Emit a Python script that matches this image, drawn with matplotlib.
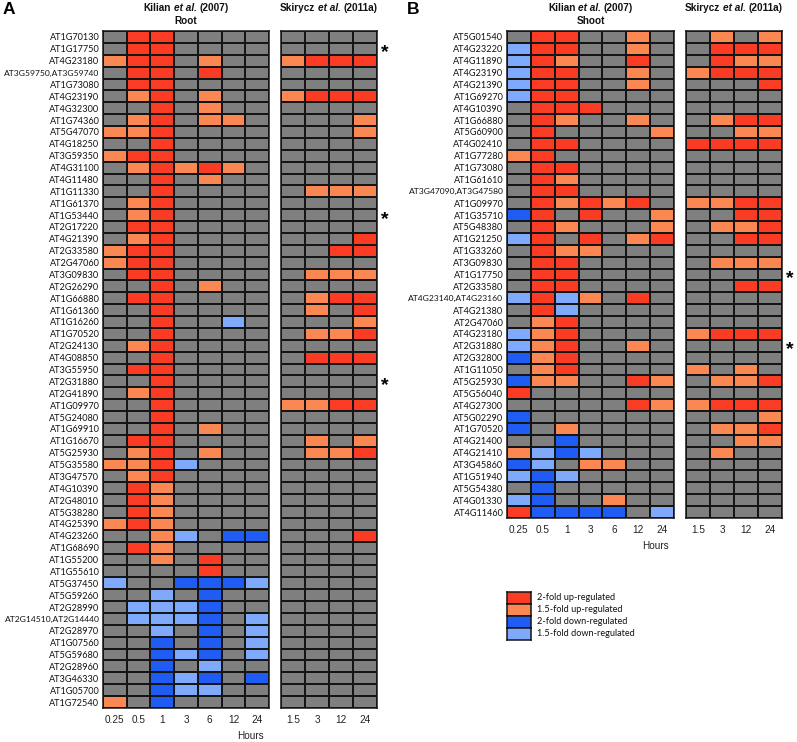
import matplotlib
matplotlib.use('Agg')
import matplotlib.pyplot as plt
import numpy as np
from matplotlib.colors import ListedColormap, BoundaryNorm

# ---------------- data ----------------
kilian_hours = ['0.25', '0.5', '1', '3', '6', '12', '24']
skirycz_hours = ['1.5', '3', '12', '24']

root_genes = ['AT1G70130', 'AT1G17750', 'AT4G23180', 'AT3G59750,AT3G59740', 'AT1G73080',
              'AT4G23190', 'AT4G32300', 'AT1G74360', 'AT5G47070', 'AT4G18250', 'AT3G59350',
              'AT4G31100', 'AT4G11480', 'AT1G11330', 'AT1G61370', 'AT1G53440', 'AT2G17220',
              'AT4G21390', 'AT2G33580', 'AT2G47060', 'AT3G09830', 'AT2G26290', 'AT1G66880',
              'AT1G61360', 'AT1G16260', 'AT1G70520', 'AT2G24130', 'AT4G08850', 'AT3G55950',
              'AT2G31880', 'AT2G41890', 'AT1G09970', 'AT5G24080', 'AT1G69910', 'AT1G16670',
              'AT5G25930', 'AT5G35580', 'AT3G47570', 'AT4G10390', 'AT2G48010', 'AT5G38280',
              'AT4G25390', 'AT4G23260', 'AT1G68690', 'AT1G55200', 'AT1G55610', 'AT5G37450',
              'AT5G59260', 'AT2G28990', 'AT2G14510,AT2G14440', 'AT2G28970', 'AT1G07560',
              'AT5G59680', 'AT2G28960', 'AT3G46330', 'AT1G05700', 'AT1G72540']

# codes: 2 = 2-fold up, 1 = 1.5-fold up, 0 = n.s., -1 = 1.5-fold down, -2 = 2-fold down
root_kilian = [
    [0, 2, 2, 0, 0, 0, 0], [0, 2, 2, 0, 0, 0, 0], [1, 2, 2, 0, 1, 0, 0], [0, 2, 2, 0, 2, 0, 0],
    [0, 2, 2, 0, 0, 0, 0], [0, 1, 2, 0, 1, 0, 0], [0, 0, 2, 0, 1, 0, 0], [0, 1, 2, 0, 1, 1, 0],
    [1, 1, 2, 0, 0, 0, 0], [0, 0, 2, 0, 0, 0, 0], [1, 2, 2, 0, 0, 0, 0], [0, 1, 2, 1, 2, 1, 0],
    [0, 0, 2, 0, 1, 0, 0], [0, 0, 2, 0, 0, 0, 0], [0, 1, 2, 0, 0, 0, 0], [0, 1, 2, 0, 0, 0, 0],
    [0, 2, 2, 0, 0, 0, 0], [0, 1, 2, 0, 0, 0, 0], [1, 2, 2, 0, 0, 0, 0], [1, 2, 2, 0, 0, 0, 0],
    [0, 2, 2, 0, 0, 0, 0], [0, 0, 2, 0, 1, 0, 0], [0, 2, 2, 0, 0, 0, 0], [0, 0, 2, 0, 0, 0, 0],
    [0, 0, 2, 0, 0, -1, 0], [0, 0, 2, 0, 0, 0, 0], [0, 1, 2, 0, 0, 0, 0], [0, 0, 2, 0, 0, 0, 0],
    [0, 2, 2, 0, 0, 0, 0], [0, 0, 2, 0, 0, 0, 0], [0, 1, 2, 0, 0, 0, 0], [0, 0, 2, 0, 0, 0, 0],
    [0, 0, 2, 0, 0, 0, 0], [0, 0, 2, 0, 1, 0, 0], [0, 2, 2, 0, 0, 0, 0], [0, 1, 2, 0, 1, 0, 0],
    [1, 1, 2, -1, 0, 0, 0], [0, 1, 2, 0, 0, 0, 0], [0, 2, 1, 0, 0, 0, 0], [0, 2, 1, 0, 0, 0, 0],
    [0, 2, 1, 0, 0, 0, 0], [1, 2, 1, 0, 0, 0, 0], [0, 0, 1, -1, 0, -2, -2], [0, 2, 1, 0, 0, 0, 0],
    [0, 0, 1, 0, 2, 0, 0], [0, 0, 0, 0, 2, 0, 0], [-1, 0, 0, -2, -2, -2, -1], [0, 0, -1, 0, -2, 0, 0],
    [0, -1, -1, -1, -2, 0, 0], [0, -1, -1, -1, -2, 0, -1], [0, 0, -1, 0, -2, 0, -1],
    [0, 0, -2, 0, -2, 0, -1], [0, 0, -2, -1, -2, 0, -1], [0, 0, -2, 0, -1, 0, 0],
    [0, 0, -2, -1, -2, 0, -2], [0, 0, -2, -1, -1, 0, 0], [1, 0, -2, 0, 0, 0, 0]]

root_skirycz = [
    [0, 0, 0, 0], [0, 0, 0, 0], [1, 2, 2, 2], [0, 0, 0, 0], [0, 0, 0, 0], [1, 2, 2, 2],
    [0, 0, 0, 0], [0, 0, 0, 1], [0, 0, 0, 1], [0, 0, 0, 0], [0, 0, 0, 0], [0, 0, 0, 0],
    [0, 0, 0, 0], [0, 1, 1, 1], [0, 0, 0, 0], [0, 0, 0, 0], [0, 0, 0, 0], [0, 0, 0, 2],
    [0, 0, 2, 2], [0, 0, 0, 0], [0, 1, 1, 1], [0, 0, 0, 0], [0, 1, 2, 2], [0, 1, 0, 2],
    [0, 0, 0, 1], [0, 1, 1, 2], [0, 0, 0, 0], [0, 2, 2, 2], [0, 0, 0, 0], [0, 0, 0, 0],
    [0, 0, 0, 0], [1, 1, 2, 2], [0, 0, 0, 0], [0, 0, 0, 0], [0, 1, 0, 1], [0, 1, 1, 2],
    [0, 0, 0, 0], [0, 0, 0, 0], [0, 0, 0, 0], [0, 0, 0, 0], [0, 0, 0, 0], [0, 0, 0, 0],
    [0, 0, 0, 2], [0, 0, 0, 0], [0, 0, 0, 0], [0, 0, 0, 0], [0, 0, 0, 0], [0, 0, 0, 0],
    [0, 0, 0, 0], [0, 0, 0, 0], [0, 0, 0, 0], [0, 0, 0, 0], [0, 0, 0, 0], [0, 0, 0, 0],
    [0, 0, 0, 0], [0, 0, 0, 0], [0, 0, 0, 0]]
root_starred = ['AT1G17750', 'AT1G53440', 'AT2G31880']

shoot_genes = ['AT5G01540', 'AT4G23220', 'AT4G11890', 'AT4G23190', 'AT4G21390', 'AT1G69270',
               'AT4G10390', 'AT1G66880', 'AT5G60900', 'AT4G02410', 'AT1G77280', 'AT1G73080',
               'AT1G61610', 'AT3G47090,AT3G47580', 'AT1G09970', 'AT1G35710', 'AT5G48380',
               'AT1G21250', 'AT1G33260', 'AT3G09830', 'AT1G17750', 'AT2G33580',
               'AT4G23140,AT4G23160', 'AT4G21380', 'AT2G47060', 'AT4G23180', 'AT2G31880',
               'AT2G32800', 'AT1G11050', 'AT5G25930', 'AT5G56040', 'AT4G27300', 'AT5G02290',
               'AT1G70520', 'AT4G21400', 'AT4G21410', 'AT3G45860', 'AT1G51940', 'AT5G54380',
               'AT4G01330', 'AT4G11460']

shoot_kilian = [
    [0, 2, 2, 0, 0, 1, 0], [-1, 2, 2, 0, 0, 1, 0], [-1, 2, 1, 0, 0, 2, 0], [-1, 2, 2, 0, 0, 1, 0],
    [-1, 2, 2, 0, 0, 1, 0], [-1, 2, 2, 0, 0, 0, 0], [0, 2, 2, 2, 0, 0, 0], [0, 2, 1, 0, 0, 1, 0],
    [0, 2, 0, 0, 0, 0, 1], [0, 2, 2, 0, 0, 0, 0], [1, 2, 0, 0, 0, 0, 0], [0, 2, 2, 0, 0, 0, 0],
    [0, 2, 1, 0, 0, 0, 0], [0, 2, 2, 0, 0, 0, 0], [0, 2, 1, 2, 1, 2, 0], [-2, 2, 0, 2, 0, 0, 1],
    [0, 2, 1, 0, 0, 0, 1], [-1, 2, 0, 2, 0, 1, 2], [0, 2, 1, 1, 0, 0, 0], [0, 2, 2, 0, 0, 0, 0],
    [0, 2, 2, 0, 0, 0, 0], [0, 2, 2, 0, 0, 0, 0], [-1, 2, -1, 1, 0, 2, 0], [0, 2, -1, 0, 0, 0, 0],
    [0, 1, 2, 0, 0, 0, 0], [-1, 1, 2, 0, 0, 0, 0], [-1, 1, 2, 0, 0, 1, 0], [-2, 1, 2, 0, 0, 0, 0],
    [0, 1, 2, 0, 0, 0, 0], [-2, 1, 1, 0, 0, 2, 1], [2, 0, 0, 0, 0, 0, 0], [0, 0, 0, 0, 0, 2, 1],
    [-2, 0, 0, 0, 0, 0, 0], [-2, 0, 1, 0, 0, 0, 0], [0, 0, -2, 0, 0, 0, 0], [1, -1, -2, -1, 0, 0, 0],
    [-2, -1, 0, 1, 1, 0, 0], [-1, -2, -1, 0, 0, 0, 0], [0, -2, 0, 0, 0, 0, 0], [-1, -2, 0, 0, 1, 0, 0],
    [2, -2, -2, -2, -2, 0, -1]]

shoot_skirycz = [
    [0, 1, 0, 1], [0, 2, 2, 2], [0, 2, 1, 1], [1, 2, 2, 2], [0, 0, 0, 2], [0, 0, 0, 0],
    [0, 0, 0, 0], [0, 1, 2, 2], [0, 0, 1, 1], [2, 2, 2, 2], [0, 0, 0, 0], [0, 0, 0, 0],
    [0, 0, 0, 0], [0, 0, 0, 0], [1, 1, 2, 2], [0, 0, 2, 2], [0, 1, 1, 2], [0, 0, 2, 2],
    [0, 0, 0, 0], [0, 1, 1, 1], [0, 0, 0, 0], [0, 0, 2, 2], [0, 0, 0, 0], [0, 0, 0, 0],
    [0, 0, 0, 0], [1, 2, 2, 2], [0, 0, 0, 0], [0, 0, 0, 0], [1, 0, 1, 0], [0, 1, 1, 2],
    [0, 0, 0, 0], [1, 2, 2, 2], [0, 0, 0, 1], [0, 1, 1, 2], [0, 0, 1, 1], [0, 1, 0, 0],
    [0, 0, 0, 0], [0, 0, 0, 0], [0, 0, 0, 0], [0, 0, 0, 0], [0, 0, 0, 0]]
shoot_starred = ['AT1G17750', 'AT2G31880']

legend_labels = ['2-fold up-regulated', '1.5-fold up-regulated',
                 '2-fold down-regulated', '1.5-fold down-regulated']
legend_codes = [2, 1, -2, -1]

# ---------------- style ----------------
W, H = 797, 742
fig = plt.figure(figsize=(W / 100, H / 100), dpi=100)

code_colors = {-2: '#1F5CF4', -1: '#7FA9FA', 0: '#7F7F7F', 1: '#FB8752', 2: '#FA3C24'}
cmap = ListedColormap([code_colors[k] for k in (-2, -1, 0, 1, 2)])
norm = BoundaryNorm([-2.5, -1.5, -0.5, 0.5, 1.5, 2.5], 5)
EDGE = '#151515'
LABEL_FONT = ['Lato', 'DejaVu Sans']
HEAD_FONT = ['Liberation Sans', 'DejaVu Sans']
LABEL_SIZE = 6.6


def ax_px(x0, y0, x1, y1):
    return fig.add_axes([x0 / W, 1 - y1 / H, (x1 - x0) / W, (y1 - y0) / H])


def heat(ax, data, xlabels, ylabels=None):
    d = np.array(data)
    ax.pcolormesh(d, cmap=cmap, norm=norm, edgecolors=EDGE, linewidth=1.1)
    ax.set_xlim(0, d.shape[1])
    ax.set_ylim(d.shape[0], 0)
    ax.set_xticks(np.arange(d.shape[1]) + 0.5)
    ax.set_xticklabels(xlabels, fontsize=7.2, family=HEAD_FONT, color='#222222')
    ax.tick_params(axis='x', length=0, pad=5)
    if ylabels is not None:
        ax.set_yticks(np.arange(d.shape[0]) + 0.5)
        ax.set_yticklabels(ylabels, fontsize=LABEL_SIZE, family=LABEL_FONT, color='#111111')
        ax.tick_params(axis='y', length=0, pad=2.6)
        for t in ax.get_yticklabels():
            if ',' in t.get_text():
                t.set_fontsize(6.1)
    else:
        ax.set_yticks([])
    for s in ax.spines.values():
        s.set_linewidth(1.1)
        s.set_color(EDGE)


renderer = fig.canvas.get_renderer()


def rich_text(xc, yc, parts, size):
    texts = []
    for s, st in parts:
        t = fig.text(0, 1 - yc / H, s, fontsize=size, fontweight='bold', fontstyle=st,
                     family=HEAD_FONT, va='center', ha='left', color='#111111')
        texts.append(t)
    a = fig.text(0, 0, 'xx', fontsize=size, fontweight='bold', family=HEAD_FONT)
    b = fig.text(0, 0, 'x x', fontsize=size, fontweight='bold', family=HEAD_FONT)
    sp = b.get_window_extent(renderer).width - a.get_window_extent(renderer).width
    a.remove(); b.remove()
    widths = [t.get_window_extent(renderer).width for t in texts]
    total = sum(widths) + sp * (len(texts) - 1)
    x = xc - total / 2
    for t, w in zip(texts, widths):
        t.set_x(x / W)
        x += w + sp


def panel(x_k0, x_k1, x_s0, x_s1, y0, y1, genes, kil, sky, starred, tissue, letter, letter_x):
    axk = ax_px(x_k0, y0, x_k1, y1)
    heat(axk, kil, kilian_hours, genes)
    axs = ax_px(x_s0, y0, x_s1, y1)
    heat(axs, sky, skirycz_hours)
    xk = (x_k0 + x_k1) / 2
    xs = (x_s0 + x_s1) / 2
    rich_text(xk, 8, [('Kilian', 'normal'), ('et al.', 'italic'), ('(2007)', 'normal')], 7.2)
    rich_text(xs, 8, [('Skirycz', 'normal'), ('et al.', 'italic'), ('(2011a)', 'normal')], 7.2)
    fig.text(xk / W, 1 - 21 / H, tissue, fontsize=7.2, fontweight='bold', family=HEAD_FONT,
             ha='center', va='center', color='#111111')
    fig.text(letter_x / W, 1 - 10 / H, letter, fontsize=12.5, fontweight='bold',
             family=HEAD_FONT, ha='left', va='center')
    # hours label under the Kilian block
    fig.text((x_k0 + 0.89 * (x_k1 - x_k0)) / W, 1 - (y1 + 28) / H, 'Hours', fontsize=7.2,
             family=HEAD_FONT, ha='center', va='center', color='#222222')
    rh = (y1 - y0) / len(genes)
    for g in starred:
        i = genes.index(g)
        yc = y0 + (i + 0.5) * rh
        fig.text((x_s1 + 8) / W, 1 - (yc + 4) / H, '*', fontsize=14, fontweight='bold',
                 family=HEAD_FONT, ha='center', va='center')
    return axk, axs


panel(103, 269, 281, 377, 31, 708, root_genes, root_kilian, root_skirycz,
      root_starred, 'Root', 'A', 3)
panel(507, 674, 686, 782, 31, 518, shoot_genes, shoot_kilian, shoot_skirycz,
      shoot_starred, 'Shoot', 'B', 407)

# legend
lx, ly, lw, lh = 507, 592, 24, 12
for k, (lab, code) in enumerate(zip(legend_labels, legend_codes)):
    lax = ax_px(lx, ly + k * lh, lx + lw, ly + (k + 1) * lh)
    lax.pcolormesh(np.array([[code]]), cmap=cmap, norm=norm)
    lax.set_xticks([]); lax.set_yticks([])
    for s in lax.spines.values():
        s.set_linewidth(1.1); s.set_color(EDGE)
    fig.text((lx + lw + 6) / W, 1 - (ly + (k + 0.5) * lh) / H, lab, fontsize=LABEL_SIZE,
             family=LABEL_FONT, ha='left', va='center', color='#111111')

fig.savefig('out.png', dpi=100)
